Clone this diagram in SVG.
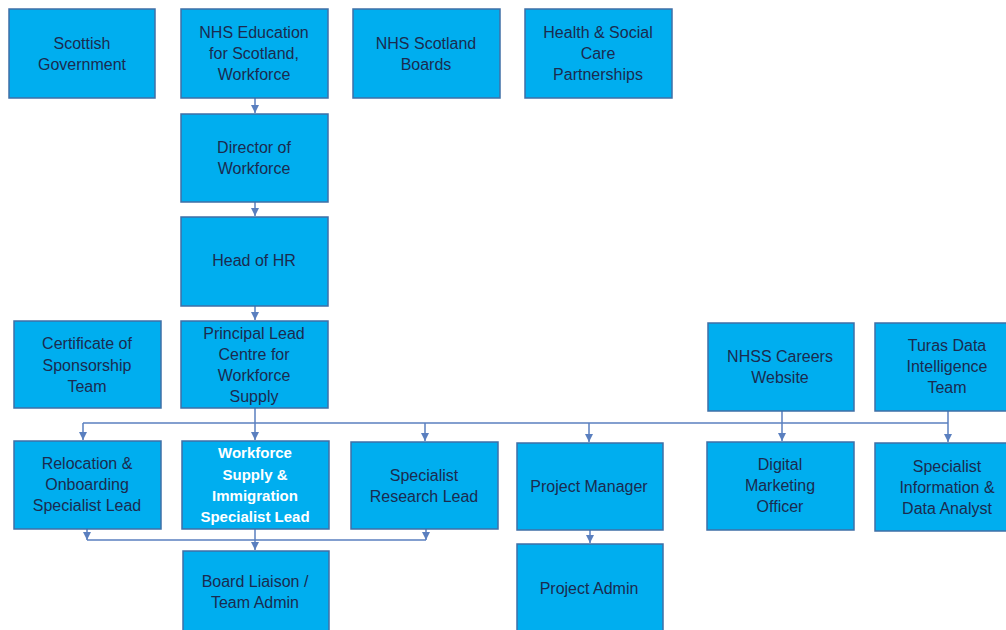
<svg xmlns="http://www.w3.org/2000/svg" width="1006" height="630" viewBox="0 0 1006 630">
<style>
.box{fill:#00AEEF;stroke:#3F6FA6;stroke-width:1.5}
.t{font-family:"Liberation Sans",Arial,sans-serif;font-size:16px;fill:#1B2B4F;text-anchor:middle}
.w{font-family:"Liberation Sans",Arial,sans-serif;font-size:15px;font-weight:bold;fill:#FFFFFF;text-anchor:middle}
.c{fill:none;stroke:#5A7FBF;stroke-width:1.5}
</style>
<defs>
<marker id="ah" viewBox="0 0 10 10" refX="10" refY="5" markerWidth="8" markerHeight="8" markerUnits="userSpaceOnUse" orient="auto">
<path d="M0,0 L10,5 L0,10 z" fill="#5A7FBF"/>
</marker>
</defs>
<rect width="1006" height="630" fill="#FFFFFF"/>
<g id="connectors">
<path class="c" d="M255,98 V113" marker-end="url(#ah)"/>
<path class="c" d="M255,202 V216" marker-end="url(#ah)"/>
<path class="c" d="M255,306 V320" marker-end="url(#ah)"/>
<path class="c" d="M255,408 V440" marker-end="url(#ah)"/>
<path class="c" d="M83,423 H948"/>
<path class="c" d="M83,423 V440" marker-end="url(#ah)"/>
<path class="c" d="M425,423 V441" marker-end="url(#ah)"/>
<path class="c" d="M589,423 V442" marker-end="url(#ah)"/>
<path class="c" d="M782,411 V441" marker-end="url(#ah)"/>
<path class="c" d="M948,411 V442" marker-end="url(#ah)"/>
<path class="c" d="M87,540 H426"/>
<path class="c" d="M87,529 V540" marker-end="url(#ah)"/>
<path class="c" d="M426,529 V540" marker-end="url(#ah)"/>
<path class="c" d="M255,529 V550" marker-end="url(#ah)"/>
<path class="c" d="M590,530 V543" marker-end="url(#ah)"/>
</g>
<g id="scottish-government"><rect class="box" x="9" y="9" width="146" height="89"/><text class="t" x="82" y="49">Scottish</text><text class="t" x="82" y="70">Government</text></g>
<g id="nhs-education"><rect class="box" x="181" y="9" width="147" height="89"/><text class="t" x="254" y="38">NHS Education</text><text class="t" x="254" y="59">for Scotland,</text><text class="t" x="254" y="80">Workforce</text></g>
<g id="nhs-scotland-boards"><rect class="box" x="353" y="9" width="147" height="89"/><text class="t" x="426" y="49">NHS Scotland</text><text class="t" x="426" y="70">Boards</text></g>
<g id="health-social-care"><rect class="box" x="525" y="9" width="147" height="89"/><text class="t" x="598" y="38">Health &amp; Social</text><text class="t" x="598" y="59">Care</text><text class="t" x="598" y="80">Partnerships</text></g>
<g id="director-of-workforce"><rect class="box" x="181" y="114" width="147" height="88"/><text class="t" x="254" y="153">Director of</text><text class="t" x="254" y="174">Workforce</text></g>
<g id="head-of-hr"><rect class="box" x="181" y="217" width="147" height="89"/><text class="t" x="254" y="266">Head of HR</text></g>
<g id="certificate-of-sponsorship"><rect class="box" x="14" y="321" width="147" height="87"/><text class="t" x="87" y="349">Certificate of</text><text class="t" x="87" y="371">Sponsorship</text><text class="t" x="87" y="392">Team</text></g>
<g id="principal-lead"><rect class="box" x="181" y="321" width="147" height="87"/><text class="t" x="254" y="339">Principal Lead</text><text class="t" x="254" y="360">Centre for</text><text class="t" x="254" y="381">Workforce</text><text class="t" x="254" y="402">Supply</text></g>
<g id="nhss-careers-website"><rect class="box" x="708" y="323" width="146" height="88"/><text class="t" x="780" y="362">NHSS Careers</text><text class="t" x="780" y="383">Website</text></g>
<g id="turas-data-intelligence"><rect class="box" x="875" y="323" width="140" height="88"/><text class="t" x="947" y="351">Turas Data</text><text class="t" x="947" y="372">Intelligence</text><text class="t" x="947" y="393">Team</text></g>
<g id="relocation-onboarding"><rect class="box" x="14" y="441" width="147" height="88"/><text class="t" x="87" y="469">Relocation &amp;</text><text class="t" x="87" y="490">Onboarding</text><text class="t" x="87" y="511">Specialist Lead</text></g>
<g id="workforce-supply-immigration"><rect class="box" x="182" y="441" width="147" height="88"/><text class="w" x="255" y="458">Workforce</text><text class="w" x="255" y="480">Supply &amp;</text><text class="w" x="255" y="501">Immigration</text><text class="w" x="255" y="522">Specialist  Lead</text></g>
<g id="specialist-research-lead"><rect class="box" x="351" y="442" width="147" height="87"/><text class="t" x="424" y="481">Specialist</text><text class="t" x="424" y="502">Research Lead</text></g>
<g id="project-manager"><rect class="box" x="517" y="443" width="146" height="87"/><text class="t" x="589" y="492">Project Manager</text></g>
<g id="digital-marketing-officer"><rect class="box" x="707" y="442" width="147" height="88"/><text class="t" x="780" y="470">Digital</text><text class="t" x="780" y="491">Marketing</text><text class="t" x="780" y="512">Officer</text></g>
<g id="specialist-information-data-analyst"><rect class="box" x="875" y="443" width="140" height="88"/><text class="t" x="947" y="472">Specialist</text><text class="t" x="947" y="493">Information &amp;</text><text class="t" x="947" y="514">Data Analyst</text></g>
<g id="board-liaison-team-admin"><rect class="box" x="183" y="551" width="146" height="85"/><text class="t" x="255" y="587">Board Liaison /</text><text class="t" x="255" y="608">Team Admin</text></g>
<g id="project-admin"><rect class="box" x="517" y="544" width="146" height="92"/><text class="t" x="589" y="594">Project Admin</text></g>
</svg>
